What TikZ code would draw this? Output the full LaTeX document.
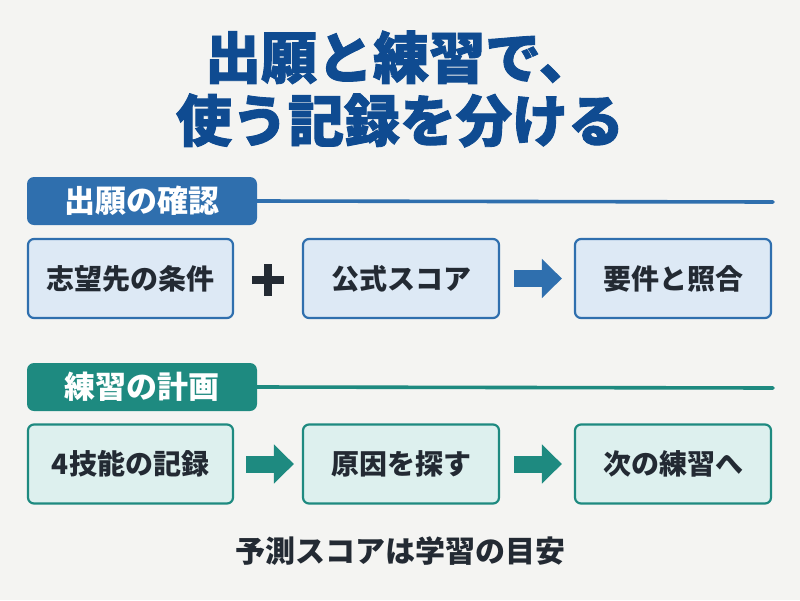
\documentclass[tikz,border=0pt]{standalone}
\usepackage{fontspec}
\setmainfont{Noto Sans CJK JP}
\newfontfamily\titlefont{Noto Sans CJK JP}[BoldFeatures={FakeBold=1.6}]
\usetikzlibrary{arrows.meta}
\definecolor{rkpaper}{HTML}{F4F4F2}
\definecolor{rkink}{HTML}{232A33}
\definecolor{rktitle}{HTML}{0F4B91}
\definecolor{rkblue}{HTML}{2F6FAE}
\definecolor{rkbluefill}{HTML}{DDE9F5}
\definecolor{rkteal}{HTML}{1E8A80}
\definecolor{rktealfill}{HTML}{DDF0EE}

\begin{document}
\begin{tikzpicture}[x=1pt, y=-1pt, font=\bfseries, text=rkink,
    header/.style={fill=#1, draw=none, rounded corners=7pt, text=white,
      minimum width=230pt, minimum height=48pt, inner sep=0pt,
      font=\fontsize{31}{34}\selectfont\bfseries},
    rule/.style={draw=#1, line width=3.6pt, line cap=round},
    card/.style={draw=#1, line width=2.2pt, rounded corners=6pt,
      minimum height=79pt, inner sep=0pt,
      font=\fontsize{28}{32}\selectfont\bfseries},
    flow/.style={draw=#1, line width=17pt,
      -{Triangle[length=20pt, width=38pt]}},
  ]
  % page
  \fill[rkpaper] (0, 0) rectangle (800, 600);
  \useasboundingbox (0, 0) rectangle (800, 600);

  % title
  \node[text=rktitle, font=\fontsize{56}{63}\titlefont\bfseries, align=center]
    (title) at (400, 89) {出願と練習で、\\使う記録を分ける};

  % application check
  \node[header=rkblue] (apply) at (142, 201) {出願の確認};
  \coordinate (applyend) at (773, 202);
  \draw[rule=rkblue] (apply.east) -- (applyend);

  \node[card=rkblue, fill=rkbluefill, minimum width=205pt] (goal) at (130.5, 278.5) {志望先の条件};
  \node[card=rkblue, fill=rkbluefill, minimum width=196pt] (score) at (401, 278.5) {公式スコア};
  \node[card=rkblue, fill=rkbluefill, minimum width=196pt] (match) at (673, 278.5) {要件と照合};

  \node[minimum size=31pt, inner sep=0pt] (plus) at (268, 280) {};
  \draw[rkink, line width=7.5pt] (plus.west) -- (plus.east);
  \draw[rkink, line width=7.5pt] (plus.north) -- (plus.south);

  \draw[flow=rkblue, shorten <=14pt, shorten >=12pt] (score) -- (match);

  % practice plan
  \node[header=rkteal] (plan) at (142, 387) {練習の計画};
  \coordinate (planend) at (773, 388);
  \draw[rule=rkteal] (plan.east) -- (planend);

  \node[card=rkteal, fill=rktealfill, minimum width=205pt] (log) at (130.5, 464) {4技能の記録};
  \node[card=rkteal, fill=rktealfill, minimum width=196pt] (cause) at (401, 464) {原因を探す};
  \node[card=rkteal, fill=rktealfill, minimum width=196pt] (next) at (673, 464) {次の練習へ};

  \draw[flow=rkteal, shorten <=12pt, shorten >=8pt] (log) -- (cause);
  \draw[flow=rkteal, shorten <=14pt, shorten >=12pt] (cause) -- (next);

  % note
  \node[font=\fontsize{30}{34}\selectfont\bfseries] (note) at (400, 551) {予測スコアは学習の目安};
\end{tikzpicture}
\end{document}
